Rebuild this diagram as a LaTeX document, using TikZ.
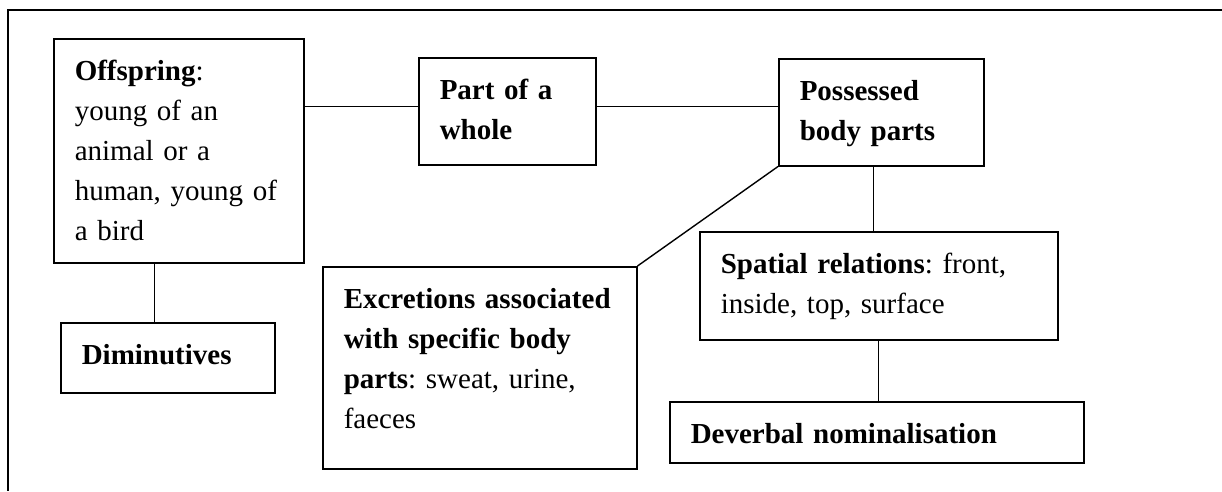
\documentclass[tikz,border=0pt]{standalone}
\usepackage{fontspec}
\setmainfont{Liberation Serif}
\usetikzlibrary{shapes,arrows}
\frenchspacing

\begin{document}
\begin{tikzpicture}[x=1pt, y=-1pt]
    % Define block styles
    \tikzstyle{block} = [rectangle, draw, line width=1.5pt, anchor=north west, align=left,
        inner xsep=21pt, inner ysep=0pt, text height=42pt, font=\fontsize{29}{40}\selectfont]
    \tikzstyle{line} = [draw, line width=1.4pt]
    \tikzstyle{frame} = [draw, line width=2.5pt]

    \useasboundingbox (0,0) rectangle (1222,491);

    % Outer frame
    \path [frame] (1222,10) -- (8,10) -- (8,491);

    % Upper row
    \node [block, text width=208pt, text depth=182pt] (offspring) at (53,38)
        {\textbf{Offspring}:\\young of an\\animal or a\\human, young of\\a bird};
    \node [block, text width=135pt, text depth=65pt] (part) at (418,57)
        {\textbf{Part of a}\\\textbf{whole}};
    \node [block, text width=163pt, text depth=65pt] (possessed) at (778,58)
        {\textbf{Possessed}\\\textbf{body parts}};

    % Lower boxes
    \node [block, text width=172pt, text depth=28pt] (diminutives) at (60,322)
        {\textbf{Diminutives}};
    \node [block, text width=272pt, text depth=160pt] (excretions) at (322,266)
        {\textbf{Excretions associated}\\\textbf{with specific body}\\\textbf{parts}: sweat, urine,\\faeces};
    \node [block, text width=316pt, text depth=66pt] (spatial) at (699,231)
        {\textbf{Spatial relations}: front,\\inside, top, surface};
    \node [block, text width=372pt, text depth=19pt] (deverbal) at (669,401)
        {\textbf{Deverbal nominalisation}};

    % Paths
    \path [line] ([yshift=5pt]part.west -| offspring.east) -- ([yshift=5pt]part.west);
    \path [line] ([yshift=5pt]part.east) -- ([yshift=5pt]part.east -| possessed.west);
    \path [line] ([xshift=-24pt]offspring.south) -- ([xshift=-24pt]offspring.south |- diminutives.north);
    \path [line] (possessed.south west) -- (excretions.north east);
    \path [line] ([xshift=-8pt]possessed.south) -- ([xshift=-8pt]possessed.south |- spatial.north);
    \path [line] (spatial.south) -- (spatial.south |- deverbal.north);

\end{tikzpicture}
\end{document}
